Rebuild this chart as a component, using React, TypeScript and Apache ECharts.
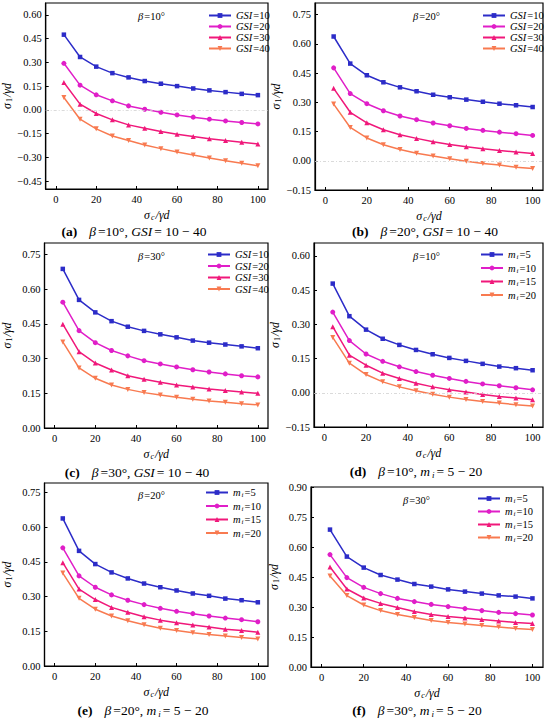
import React, { useEffect, useRef } from 'react';
import * as echarts from 'echarts';

// ---------- data ----------
const sigmaC = [4, 12, 20, 28, 36, 44, 52, 60, 68, 76, 84, 92, 100];
const xTicks = [0, 20, 40, 60, 80, 100];

const gsiNames = ['GSI=10', 'GSI=20', 'GSI=30', 'GSI=40'];
const miNames = ['mi=5', 'mi=10', 'mi=15', 'mi=20'];

// (a) beta = 10°, GSI = 10-40
const aGSI10 = [0.475, 0.334, 0.273, 0.232, 0.205, 0.182, 0.165, 0.150, 0.135, 0.123, 0.112, 0.101, 0.093];
const aGSI20 = [0.294, 0.156, 0.095, 0.057, 0.025, 0.004, -0.015, -0.032, -0.046, -0.059, -0.070, -0.080, -0.089];
const aGSI30 = [0.173, 0.036, -0.023, -0.063, -0.095, -0.116, -0.137, -0.154, -0.169, -0.182, -0.194, -0.205, -0.215];
const aGSI40 = [0.078, -0.059, -0.120, -0.165, -0.194, -0.222, -0.245, -0.266, -0.285, -0.304, -0.321, -0.338, -0.353];

// (b) beta = 20°, GSI = 10-40
const bGSI10 = [0.638, 0.499, 0.439, 0.403, 0.377, 0.357, 0.339, 0.326, 0.314, 0.303, 0.293, 0.285, 0.276];
const bGSI20 = [0.477, 0.345, 0.293, 0.257, 0.230, 0.211, 0.194, 0.180, 0.166, 0.156, 0.147, 0.139, 0.130];
const bGSI30 = [0.372, 0.249, 0.195, 0.159, 0.134, 0.115, 0.098, 0.084, 0.072, 0.062, 0.053, 0.045, 0.038];
const bGSI40 = [0.291, 0.171, 0.117, 0.082, 0.058, 0.039, 0.024, 0.010, -0.002, -0.014, -0.022, -0.033, -0.039];

// (c) beta = 30°, GSI = 10-40
const cGSI10 = [0.688, 0.554, 0.500, 0.462, 0.438, 0.420, 0.405, 0.392, 0.378, 0.369, 0.361, 0.353, 0.345];
const cGSI20 = [0.544, 0.421, 0.369, 0.335, 0.312, 0.291, 0.277, 0.264, 0.252, 0.242, 0.234, 0.226, 0.221];
const cGSI30 = [0.449, 0.330, 0.281, 0.251, 0.226, 0.211, 0.198, 0.186, 0.177, 0.169, 0.162, 0.156, 0.150];
const cGSI40 = [0.372, 0.260, 0.215, 0.186, 0.167, 0.153, 0.143, 0.133, 0.124, 0.117, 0.111, 0.105, 0.100];

// (d) beta = 10°, mi = 5-20
const dMi5 = [0.479, 0.336, 0.277, 0.237, 0.210, 0.188, 0.169, 0.153, 0.140, 0.127, 0.115, 0.108, 0.099];
const dMi10 = [0.354, 0.229, 0.170, 0.138, 0.114, 0.093, 0.077, 0.063, 0.050, 0.039, 0.031, 0.022, 0.013];
const dMi15 = [0.290, 0.165, 0.121, 0.086, 0.063, 0.042, 0.026, 0.013, 0.003, -0.007, -0.016, -0.023, -0.031];
const dMi20 = [0.243, 0.130, 0.080, 0.048, 0.026, 0.009, -0.006, -0.019, -0.029, -0.038, -0.045, -0.052, -0.058];

// (e) beta = 20°, mi = 5-20
const eMi5 = [0.637, 0.497, 0.440, 0.404, 0.378, 0.356, 0.340, 0.326, 0.313, 0.303, 0.291, 0.284, 0.275];
const eMi10 = [0.510, 0.389, 0.340, 0.307, 0.284, 0.265, 0.249, 0.236, 0.226, 0.216, 0.207, 0.200, 0.191];
const eMi15 = [0.446, 0.332, 0.287, 0.253, 0.232, 0.213, 0.198, 0.187, 0.177, 0.168, 0.159, 0.153, 0.146];
const eMi20 = [0.401, 0.292, 0.245, 0.216, 0.195, 0.178, 0.163, 0.153, 0.144, 0.136, 0.130, 0.123, 0.117];

// (f) beta = 30°, mi = 5-20
const fMi5 = [0.687, 0.552, 0.497, 0.460, 0.437, 0.415, 0.402, 0.388, 0.377, 0.367, 0.358, 0.352, 0.343];
const fMi10 = [0.562, 0.447, 0.398, 0.367, 0.343, 0.327, 0.313, 0.302, 0.292, 0.282, 0.273, 0.267, 0.260];
const fMi15 = [0.500, 0.390, 0.345, 0.318, 0.297, 0.278, 0.263, 0.253, 0.245, 0.237, 0.230, 0.223, 0.217];
const fMi20 = [0.455, 0.357, 0.310, 0.282, 0.262, 0.247, 0.233, 0.223, 0.215, 0.207, 0.200, 0.193, 0.188];

// y tick labels
const yTicksA = [-0.45, -0.30, -0.15, 0, 0.15, 0.30, 0.45, 0.60];
const yTicksB = [-0.15, 0, 0.15, 0.30, 0.45, 0.60, 0.75];
const yTicksC = [0, 0.15, 0.30, 0.45, 0.60, 0.75];
const yTicksD = [-0.15, 0, 0.15, 0.30, 0.45, 0.60];
const yTicksE = [0, 0.15, 0.30, 0.45, 0.60, 0.75];
const yTicksF = [0, 0.15, 0.30, 0.45, 0.60, 0.75, 0.90];

// ---------- style ----------
const FONT = "'Liberation Serif', 'Times New Roman', serif";
const COLORS = ['#2c2cc8', '#e01ec8', '#f0187a', '#f87a50'];
const SYMBOLS = ['rect', 'circle', 'triangle', 'triangle'];
const ROTATE = [0, 0, 0, 180];

const panels = [
  { letter: 'a', beta: '10', kind: 'gsi', data: [aGSI10, aGSI20, aGSI30, aGSI40], yTicks: yTicksA, yMin: -0.5, yMax: 0.675, zero: true,
    grid: { left: 43, top: 3, width: 225, height: 186 }, leg: { left: 208, top: 10, gap: 0 }, betaPos: [138, 16], cap: [134, 231] },
  { letter: 'b', beta: '20', kind: 'gsi', data: [bGSI10, bGSI20, bGSI30, bGSI40], yTicks: yTicksB, yMin: -0.15, yMax: 0.81, zero: true,
    grid: { left: 315, top: 3, width: 228, height: 187 }, leg: { left: 482, top: 10, gap: 0 }, betaPos: [413, 16], cap: [425, 231] },
  { letter: 'c', beta: '30', kind: 'gsi', data: [cGSI10, cGSI20, cGSI30, cGSI40], yTicks: yTicksC, yMin: 0, yMax: 0.80, zero: false,
    grid: { left: 39, top: 243, width: 229, height: 185 }, leg: { left: 207, top: 249, gap: 0.5 }, betaPos: [138, 256], cap: [137, 472] },
  { letter: 'd', beta: '10', kind: 'mi', data: [dMi5, dMi10, dMi15, dMi20], yTicks: yTicksD, yMin: -0.15, yMax: 0.657, zero: true,
    grid: { left: 314, top: 243, width: 229, height: 184 }, leg: { left: 480, top: 249, gap: 2 }, betaPos: [413, 256], cap: [416, 471] },
  { letter: 'e', beta: '20', kind: 'mi', data: [eMi5, eMi10, eMi15, eMi20], yTicks: yTicksE, yMin: 0, yMax: 0.79, zero: false,
    grid: { left: 39, top: 483, width: 229, height: 183 }, leg: { left: 205, top: 487, gap: 2 }, betaPos: [138, 495], cap: [143, 710] },
  { letter: 'f', beta: '30', kind: 'mi', data: [fMi5, fMi10, fMi15, fMi20], yTicks: yTicksF, yMin: 0, yMax: 0.90, zero: false,
    grid: { left: 311, top: 487, width: 232, height: 180 }, leg: { left: 477, top: 493, gap: 1.5 }, betaPos: [403, 500], cap: [417, 710] },
];

const fmtY = (v: number) => (v < 0 ? '\u2212' : '') + Math.abs(v).toFixed(2);

const axisNameRich = {
  i: { fontFamily: FONT, fontSize: 12, fontStyle: 'italic', color: '#000', lineHeight: 13, verticalAlign: 'middle' },
  s: { fontFamily: FONT, fontSize: 8, fontStyle: 'italic', color: '#000', lineHeight: 7, verticalAlign: 'bottom', padding: [0, 1, 0, 1] },
  s1: { fontFamily: FONT, fontSize: 8, color: '#000', lineHeight: 7, verticalAlign: 'bottom', padding: [0, 1, 0, 1] },
};

const legendRich = {
  i: { fontFamily: FONT, fontSize: 10.5, fontStyle: 'italic', color: '#000', lineHeight: 12, verticalAlign: 'middle', padding: [0, 1, 0, 0] },
  n: { fontFamily: FONT, fontSize: 10.5, color: '#000', lineHeight: 12, verticalAlign: 'middle' },
  s: { fontFamily: FONT, fontSize: 7, fontStyle: 'italic', color: '#000', lineHeight: 6, verticalAlign: 'bottom', padding: [0, 1, 0, 0] },
};

const capRich = {
  b: { fontFamily: FONT, fontSize: 13.5, fontWeight: 'bold', fill: '#000', color: '#000', lineHeight: 16, verticalAlign: 'middle', padding: [0, 12, 0, 0] },
  i: { fontFamily: FONT, fontSize: 13.5, fontStyle: 'italic', fill: '#000', color: '#000', lineHeight: 16, verticalAlign: 'middle', padding: [0, 2, 0, 0] },
  n: { fontFamily: FONT, fontSize: 13.5, fill: '#000', color: '#000', lineHeight: 16, verticalAlign: 'middle' },
  s: { fontFamily: FONT, fontSize: 9, fontStyle: 'italic', fill: '#000', color: '#000', lineHeight: 8, verticalAlign: 'bottom', padding: [0, 2, 0, 0] },
};

const betaRich = {
  i: { fontFamily: FONT, fontSize: 10.5, fontStyle: 'italic', fill: '#000', color: '#000', padding: [0, 1, 0, 0] },
  n: { fontFamily: FONT, fontSize: 10.5, fill: '#000', color: '#000' },
};

function buildOption() {
  const grid: any[] = [];
  const xAxis: any[] = [];
  const yAxis: any[] = [];
  const legend: any[] = [];
  const series: any[] = [];
  const elements: any[] = [];

  panels.forEach((p, gi) => {
    grid.push({ ...p.grid, show: true, borderColor: '#000', borderWidth: 1.2, backgroundColor: 'transparent' });
    xAxis.push({
      gridIndex: gi, type: 'value', min: -5, max: 105,
      axisLine: { show: true, onZero: false, lineStyle: { color: '#000', width: 1.2 } },
      axisTick: { show: true, inside: true, length: 3, customValues: xTicks, lineStyle: { color: '#000', width: 1 } },
      axisLabel: { customValues: xTicks, fontFamily: FONT, fontSize: 10.5, color: '#000', margin: 5 },
      splitLine: { show: false },
      name: '{i|σ}{s|c}{i|/γd}', nameLocation: 'middle', nameGap: 19,
      nameTextStyle: { rich: axisNameRich },
    });
    yAxis.push({
      gridIndex: gi, type: 'value', min: p.yMin, max: p.yMax,
      axisLine: { show: true, onZero: false, lineStyle: { color: '#000', width: 1.2 } },
      axisTick: { show: true, inside: true, length: 3, customValues: p.yTicks, lineStyle: { color: '#000', width: 1 } },
      axisLabel: { customValues: p.yTicks, formatter: fmtY, fontFamily: FONT, fontSize: 10.5, color: '#000', margin: 4 },
      splitLine: { show: false },
      name: '{i|σ}{s1|1}{i|/γd}', nameLocation: 'middle', nameGap: 31, nameRotate: 90,
      nameTextStyle: { rich: axisNameRich },
    });
    const names = p.kind === 'gsi' ? gsiNames : miNames;
    legend.push({
      data: names, orient: 'vertical', left: p.leg.left, top: p.leg.top,
      itemWidth: 22, itemHeight: 6, itemGap: p.leg.gap, selectedMode: false, padding: 0,
      formatter: (name: string) => {
        const [k, v] = name.split('=');
        return k === 'GSI' ? `{i|GSI}{n|=${v}}` : `{i|m}{s|i}{n|=${v}}`;
      },
      textStyle: { fontFamily: FONT, fontSize: 10.5, color: '#000', rich: legendRich },
    });
    p.data.forEach((vals, si) => {
      const s: any = {
        type: 'line', name: names[si], xAxisIndex: gi, yAxisIndex: gi,
        data: sigmaC.map((x, k) => [x, vals[k]]),
        symbol: SYMBOLS[si], symbolSize: si === 0 ? 4.5 : 5, symbolRotate: ROTATE[si],
        color: COLORS[si], lineStyle: { width: 1.5, color: COLORS[si] }, itemStyle: { color: COLORS[si] },
        z: 5 - si,
      };
      if (si === 0 && p.zero) {
        s.markLine = {
          silent: true, symbol: 'none', label: { show: false },
          lineStyle: { color: '#d0d0d0', type: [3, 2, 1, 2], width: 0.8 },
          data: [{ yAxis: 0 }],
        };
      }
      series.push(s);
    });
    elements.push({
      type: 'text', x: p.betaPos[0], y: p.betaPos[1],
      style: {
        text: `{i|β}{n|=${p.beta}°}`, rich: betaRich, fontFamily: FONT, fontSize: 10.5, fill: '#000',
        align: 'left', verticalAlign: 'middle', textAlign: 'left', textVerticalAlign: 'middle',
      },
    });
    const param = p.kind === 'gsi' ? '{i|GSI}{n|= 10 − 40}' : '{i|m}{s|i}{n|= 5 − 20}';
    elements.push({
      type: 'text', x: p.cap[0], y: p.cap[1],
      style: {
        text: `{b|(${p.letter})}{i|β}{n|=${p.beta}°, }${param}`, rich: capRich, fontFamily: FONT, fontSize: 13.5, fill: '#000',
        align: 'center', verticalAlign: 'middle', textAlign: 'center', textVerticalAlign: 'middle',
      },
    });
  });

  return {
    animation: false,
    backgroundColor: '#fff',
    grid, xAxis, yAxis, legend, series,
    graphic: { elements },
  };
}

export default function App() {
  const ref = useRef<HTMLDivElement>(null);
  useEffect(() => {
    if (!ref.current) return;
    const chart = echarts.init(ref.current, null, { renderer: 'svg' });
    chart.setOption(buildOption() as any);
    return () => chart.dispose();
  }, []);
  return <div ref={ref} style={{ position: 'fixed', left: 0, top: 0, width: 550, height: 720, background: '#fff' }} />;
}
